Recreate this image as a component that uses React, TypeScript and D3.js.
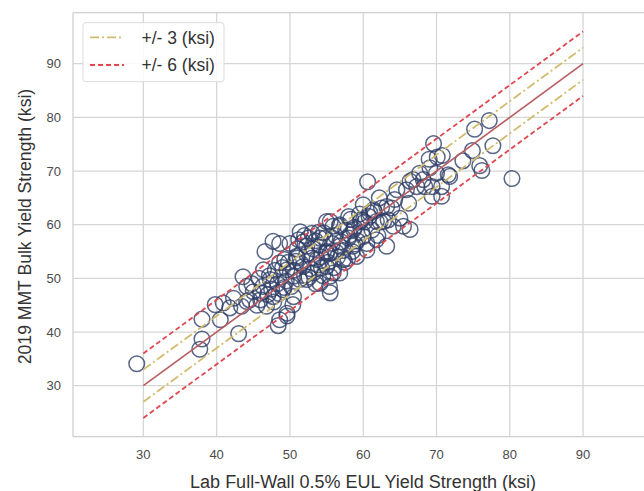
import React from "react";
import * as d3 from "d3";

// Lab full-wall (x) vs 2019 MMT bulk (y) yield strength, ksi
const labYield = [
  29.1, 38.0, 38.0, 37.7, 43.0, 40.5, 39.8, 40.9, 42.3, 41.8, 43.4, 43.6, 44.1,
  48.4, 49.6, 50.4, 46.6, 48.6, 80.3, 77.2, 75.2, 77.7, 74.9, 73.6, 75.9, 76.2,
  69.6, 70.1, 69.0, 70.8, 71.8, 67.7, 66.8, 68.2, 69.1, 70.0, 69.4, 70.7, 69.4,
  70.7, 60.6, 64.6, 66.4, 66.2, 64.3, 62.2, 62.5, 63.9, 60.0, 60.9, 63.4, 65.0,
  66.4, 64.1, 59.6, 58.7, 58.0, 55.9, 55.0, 71.6, 65.9, 68.4, 67.3, 61.4, 63.2,
  56.8, 62.8, 65.5, 54.6, 61.8, 63.2, 56.8, 58.6, 60.5, 55.5, 57.3, 59.1, 55.0,
  56.8, 55.5, 47.7, 49.3, 50.9, 51.4, 53.0, 54.1, 55.5, 52.3, 44.1, 46.4, 47.3,
  48.6, 49.6, 50.5, 51.8, 53.7, 55.0, 55.9, 55.5, 54.1, 49.1, 50.5, 47.7, 46.0,
  49.6, 48.6, 52.3, 53.2, 44.5, 45.0, 45.5, 46.0, 46.3, 46.8, 47.0, 47.5, 47.2,
  47.8, 48.0, 48.3, 48.5, 48.8, 49.0, 49.2, 49.5, 49.8, 44.8, 45.8, 50.2, 50.5,
  50.8, 51.0, 51.3, 51.5, 51.8, 52.0, 52.3, 52.5, 52.8, 53.0, 53.2, 53.5, 53.8,
  54.0, 54.2, 54.5, 54.8, 55.0, 55.2, 55.4, 50.0, 51.2, 52.0, 53.5, 55.8, 56.2,
  56.5, 56.8, 57.0, 57.3, 57.6, 58.0, 58.3, 58.5, 58.8, 59.2, 59.5, 59.8, 60.2,
  60.5, 60.8, 61.2, 61.5, 62.0, 62.3, 56.0, 57.5, 60.0, 58.2, 61.8, 51.0, 52.6,
  54.3, 56.3, 58.9, 59.7, 53.9, 57.9,
];
const mmtYield = [
  34.1, 42.4, 38.7, 36.8, 39.7, 42.3, 45.1, 45.4, 46.3, 44.5, 44.8, 50.3, 45.7,
  41.2, 43.0, 45.1, 55.0, 56.5, 68.6, 79.4, 77.8, 74.7, 73.8, 71.9, 71.0, 70.1,
  75.1, 72.6, 72.2, 72.9, 69.0, 69.6, 68.4, 68.4, 70.6, 69.6, 67.1, 67.1, 65.3,
  65.3, 68.0, 66.5, 68.1, 64.0, 64.7, 65.0, 63.1, 63.1, 63.7, 62.2, 60.9, 61.2,
  59.1, 59.7, 60.6, 59.1, 61.5, 59.7, 60.6, 69.3, 66.5, 67.1, 67.1, 62.8, 63.4,
  59.7, 60.6, 59.7, 58.5, 57.2, 56.0, 56.0, 56.0, 55.3, 54.7, 53.5, 54.1, 52.2,
  51.0, 50.4, 56.9, 53.5, 54.1, 58.7, 58.4, 57.5, 60.6, 56.0, 48.5, 51.6, 49.8,
  52.9, 51.6, 50.4, 52.2, 53.5, 54.7, 51.0, 47.3, 49.1, 47.9, 46.6, 46.6, 47.3,
  43.5, 42.3, 49.8, 51.0, 46.0, 47.5, 45.0, 46.0, 48.5, 44.8, 47.0, 48.0, 50.5,
  45.6, 51.5, 49.0, 47.2, 50.2, 52.0, 48.3, 49.5, 53.0, 49.0, 50.0, 48.5, 51.5,
  53.2, 55.5, 49.8, 52.8, 56.8, 50.5, 54.5, 57.5, 51.8, 53.8, 55.5, 49.0, 52.5,
  56.2, 54.0, 50.5, 57.5, 55.0, 53.0, 48.5, 56.5, 57.2, 58.0, 57.0, 56.5, 58.0,
  54.0, 60.0, 56.8, 55.2, 59.0, 57.5, 61.0, 55.0, 59.5, 57.0, 62.0, 58.5, 60.5,
  56.5, 61.5, 59.0, 62.5, 58.0, 60.5, 52.0, 53.0, 57.8, 58.1, 60.6, 53.8, 50.2,
  52.0, 54.9, 56.4, 60.9, 58.6, 53.7,
];

const lineEnds = [30, 90];
const xTicks = [30, 40, 50, 60, 70, 80, 90];
const yTicks = [30, 40, 50, 60, 70, 80, 90];
const bandLabels = ["+/- 3 (ksi)", "+/- 6 (ksi)"];
const bandOffsets = [3, 6];

const W = 644;
const H = 491;
const left = 73;
const top = 12.7;
const bottom = 436.7;

export default function App() {
  const x = d3.scaleLinear().domain([20.4, 99.6]).range([left, 653.4]);
  const y = d3.scaleLinear().domain([20.5, 99.5]).range([bottom, top]);
  const line = d3
    .line<number[]>()
    .x((d) => x(d[0]))
    .y((d) => y(d[1]));

  const offsetLine = (off: number) =>
    line(lineEnds.map((v) => [v, v + off])) || "";

  const font = "'Liberation Sans', Arial, sans-serif";
  const bandStyles = [
    { stroke: "#d2bb6c", dash: "9,3,2,3", width: 1.8 },
    { stroke: "#e0474f", dash: "5,3", width: 1.8 },
  ];

  return (
    <svg
      width={W}
      height={H}
      style={{ position: "absolute", left: 0, top: 0, background: "#fff" }}
      fontFamily={font}
    >
      {/* grid */}
      {xTicks.map((t) => (
        <line key={"gx" + t} x1={x(t)} x2={x(t)} y1={top} y2={bottom} stroke="#d6d6d6" strokeWidth={1.3} />
      ))}
      {yTicks.map((t) => (
        <line key={"gy" + t} x1={left} x2={W} y1={y(t)} y2={y(t)} stroke="#d6d6d6" strokeWidth={1.3} />
      ))}
      {/* frame */}
      <line x1={left} x2={left} y1={top} y2={bottom} stroke="#d0d0d0" strokeWidth={1.3} />
      <line x1={left} x2={W} y1={bottom} y2={bottom} stroke="#d0d0d0" strokeWidth={1.3} />
      <line x1={left} x2={W} y1={top} y2={top} stroke="#d0d0d0" strokeWidth={1.3} />

      {/* points */}
      {labYield.map((v, i) => (
        <circle
          key={i}
          cx={x(v)}
          cy={y(mmtYield[i])}
          r={7.8}
          fill="none"
          stroke="#2f3f68"
          strokeOpacity={0.8}
          strokeWidth={1.5}
        />
      ))}

      {/* reference lines */}
      <path d={offsetLine(0)} stroke="#b95c60" strokeWidth={1.6} fill="none" />
      {bandOffsets.map((o, i) =>
        [o, -o].map((s) => (
          <path
            key={"b" + i + s}
            d={offsetLine(s)}
            stroke={bandStyles[i].stroke}
            strokeWidth={bandStyles[i].width}
            strokeDasharray={bandStyles[i].dash}
            fill="none"
          />
        ))
      )}

      {/* tick labels */}
      {xTicks.map((t) => (
        <text key={"tx" + t} x={x(t)} y={459} textAnchor="middle" fontSize={13} fill="#4a4a4a">
          {t}
        </text>
      ))}
      {yTicks.map((t) => (
        <text key={"ty" + t} x={61} y={y(t) + 4.5} textAnchor="end" fontSize={13} fill="#4a4a4a">
          {t}
        </text>
      ))}

      {/* axis labels */}
      <text x={363} y={488} textAnchor="middle" fontSize={18} fill="#333">
        Lab Full-Wall 0.5% EUL Yield Strength (ksi)
      </text>
      <text
        transform={`translate(31,226.5) rotate(-90)`}
        textAnchor="middle"
        fontSize={17.6}
        fill="#333"
      >
        2019 MMT Bulk Yield Strength (ksi)
      </text>

      {/* legend */}
      <rect x={83} y={22.7} width={141} height={59} rx={3} fill="#fff" fillOpacity={0.85} stroke="#dcdcdc" />
      {bandLabels.map((lab, i) => (
        <g key={lab}>
          <line
            x1={90}
            x2={124}
            y1={37.3 + i * 27.7}
            y2={37.3 + i * 27.7}
            stroke={bandStyles[i].stroke}
            strokeWidth={bandStyles[i].width}
            strokeDasharray={bandStyles[i].dash}
          />
          <text x={141.5} y={43.5 + i * 27.7} fontSize={17.5} fill="#333">
            {lab}
          </text>
        </g>
      ))}
    </svg>
  );
}
